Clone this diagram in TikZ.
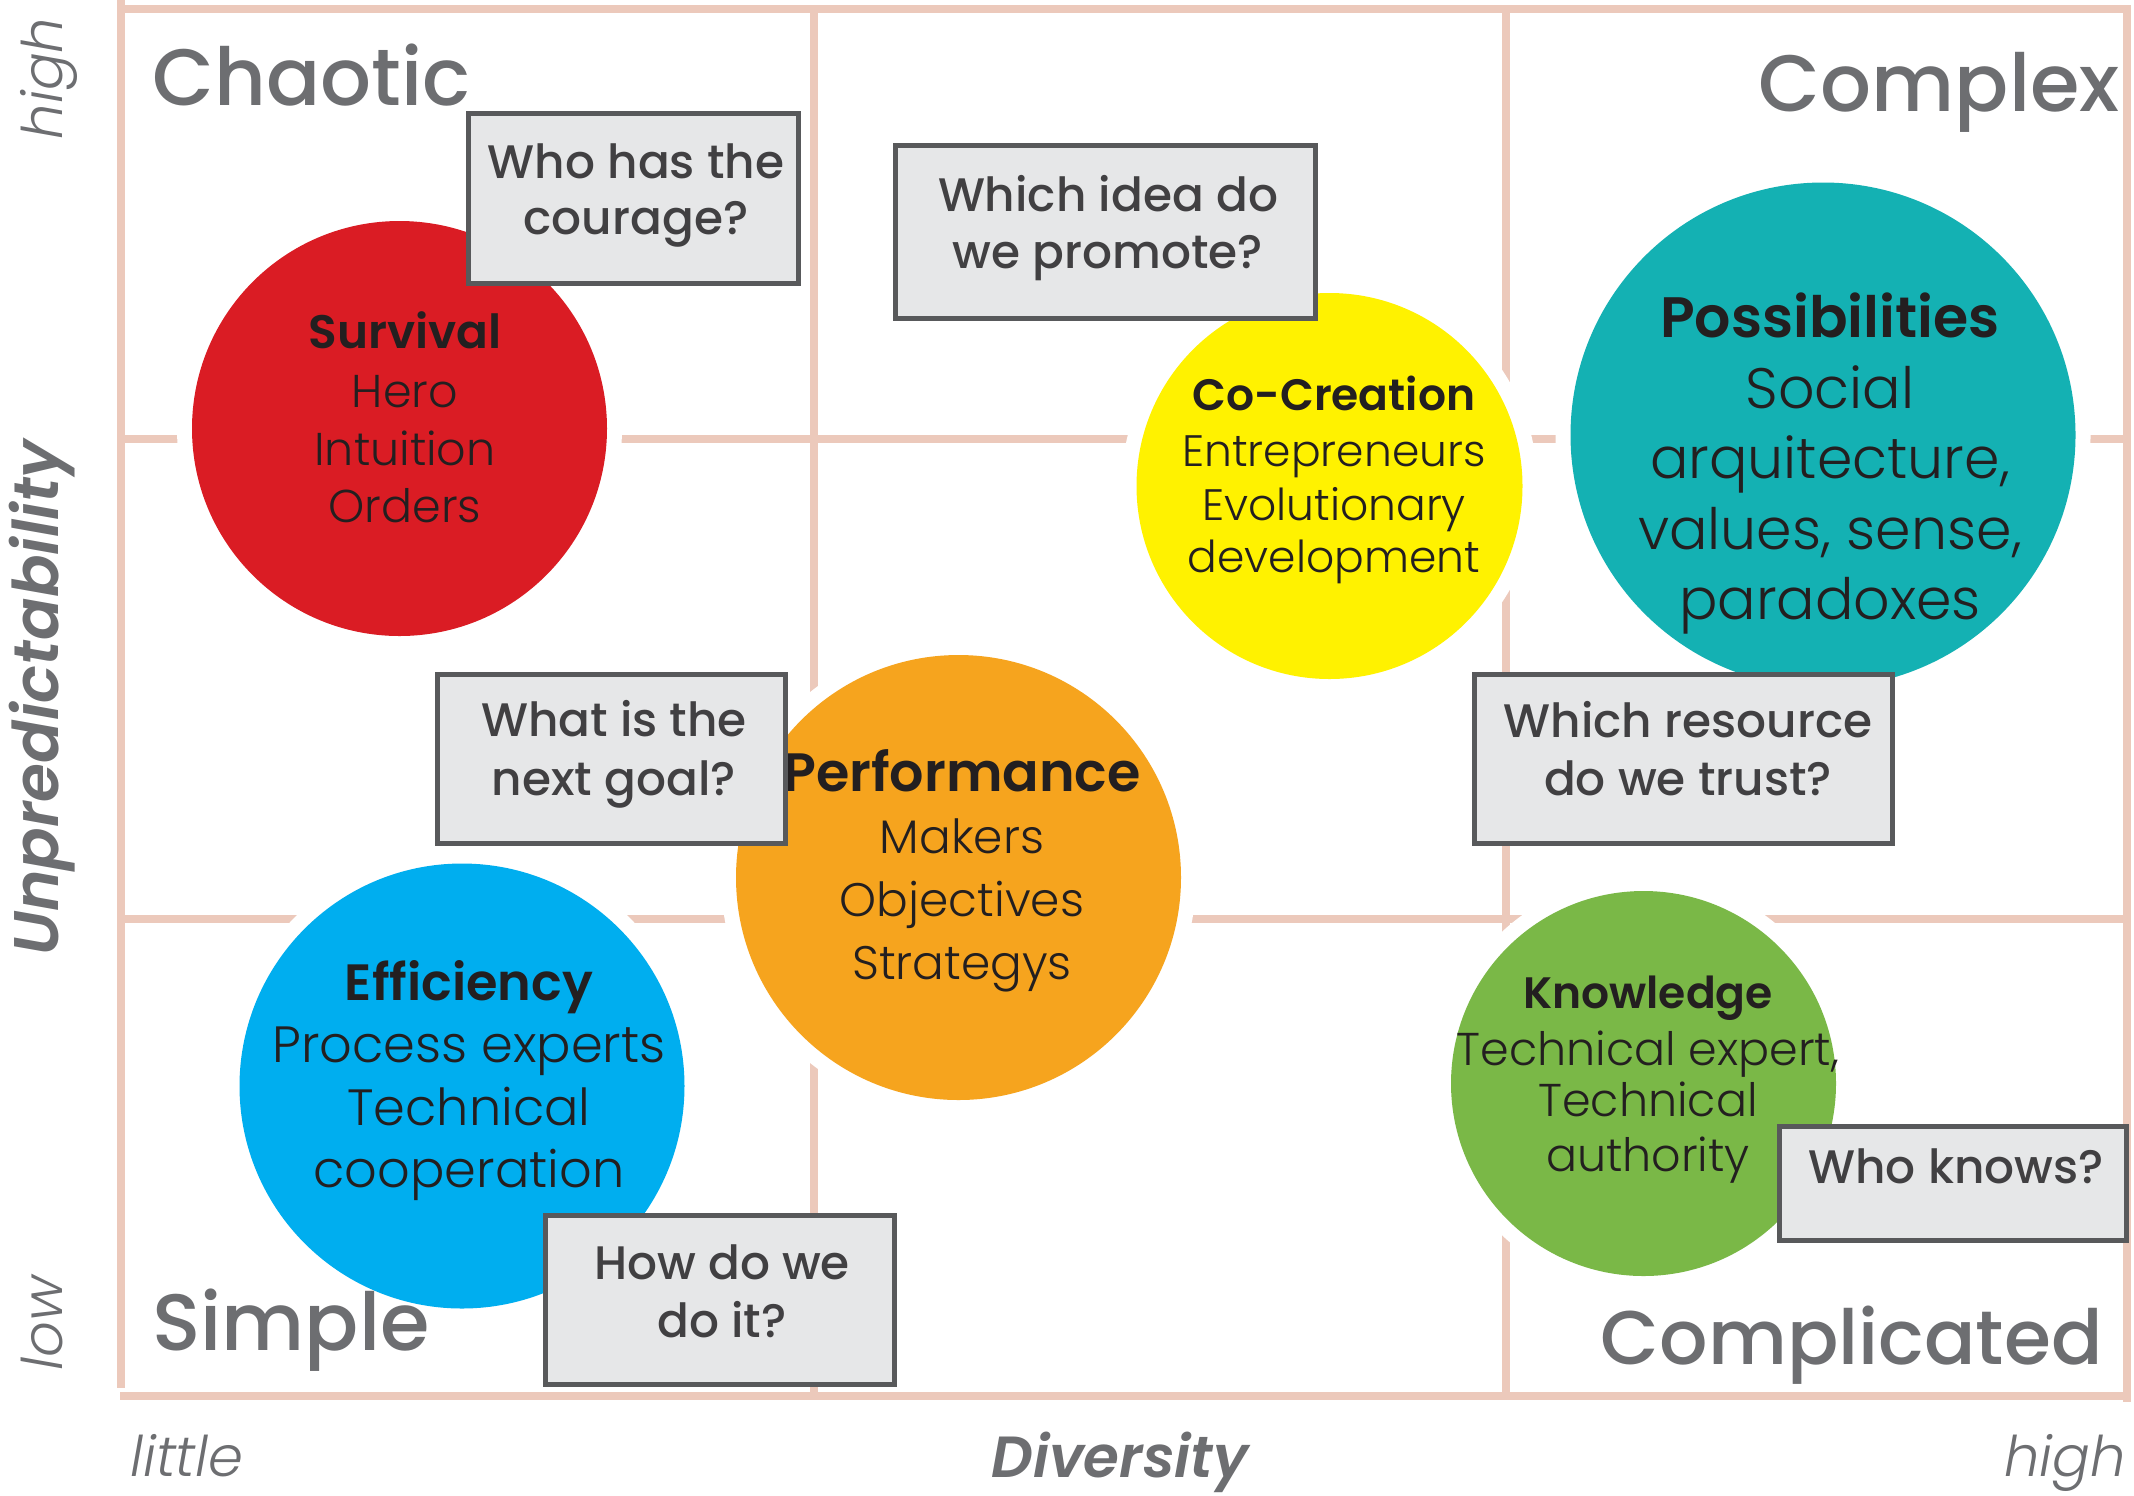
\documentclass[tikz,border=0pt]{standalone}
\usepackage{fontspec}
\IfFontExistsTF{Poppins Light}{\newfontfamily\popL{Poppins Light}}{\newfontfamily\popL{Poppins}}
\IfFontExistsTF{Poppins Medium}{\newfontfamily\popM{Poppins Medium}}{\newfontfamily\popM{Poppins}}
\IfFontExistsTF{Poppins SemiBold}{\newfontfamily\popB{Poppins SemiBold}}{\newfontfamily\popB{Poppins}[FakeBold=1.5]}
\IfFontExistsTF{Poppins Light Italic}{\newfontfamily\popLI{Poppins Light Italic}}{\newfontfamily\popLI{Poppins}[FakeSlant=0.2]}
\IfFontExistsTF{Poppins SemiBold Italic}{\newfontfamily\popBI{Poppins SemiBold Italic}}{\newfontfamily\popBI{Poppins}[FakeSlant=0.2,FakeBold=1.5]}
\definecolor{gridc}{RGB}{236,201,187}
\definecolor{redc}{RGB}{218,28,36}
\definecolor{yelc}{RGB}{255,242,0}
\definecolor{tealc}{RGB}{20,177,179}
\definecolor{orac}{RGB}{246,164,30}
\definecolor{bluec}{RGB}{0,174,239}
\definecolor{grnc}{RGB}{122,184,71}
\definecolor{boxfill}{RGB}{230,231,232}
\definecolor{boxline}{RGB}{88,89,91}
\definecolor{boxtext}{RGB}{65,64,66}
\definecolor{darktext}{RGB}{35,31,32}
\definecolor{labgray}{RGB}{109,110,113}
\begin{document}
\begin{tikzpicture}[x={(0.5pt,0)}, y={(0,-0.5pt)},
  gridline/.style={draw=gridc, line width=4pt},
  blob/.style={circle, inner sep=0pt, minimum size=#1, preaction={draw=white, line width=15pt}},
  qbox/.style={rectangle, draw=boxline, fill=boxfill, line width=2.5pt, inner sep=0pt},
  qtxt/.style={anchor=base, inner sep=0pt, text=boxtext, font=\popM\fontsize{23.5}{28}\selectfont},
  ttl/.style={anchor=base, inner sep=0pt, text=darktext, font=\popB\fontsize{#1}{#1}\selectfont},
  bdy/.style={anchor=base, inner sep=0pt, text=darktext, font=\popL\fontsize{#1}{#1}\selectfont},
  quad/.style={inner sep=0pt, text=labgray, font=\popM\fontsize{#1}{#1}\selectfont},
  axl/.style={inner sep=0pt, text=labgray, font=\popLI\fontsize{28}{28}\selectfont},
  axb/.style={inner sep=0pt, text=labgray, font=\popBI\fontsize{#1}{#1}\selectfont},
]
\useasboundingbox[fill=white] (0,0) rectangle (2134,1495);
% grid
\draw[gridline] (120.5,0) -- (120.5,1388);
\draw[gridline] (123,9) -- (2131,9);
\draw[gridline] (2127,9) -- (2127,1402);
\draw[gridline] (120,1396) -- (2131,1396);
\draw[gridline] (814,9) -- (814,1396);
\draw[gridline] (1505.5,9) -- (1505.5,1396);
\draw[gridline] (120,439) -- (2127,439);
\draw[gridline] (120,919) -- (2127,919);
% circles
\node[blob=207.5pt, fill=redc] (red) at (399.5,428.5) {};
\node[blob=193pt, fill=yelc] (yellow) at (1329.5,486) {};
\node[blob=252.5pt, fill=tealc] (teal) at (1823,435) {};
\node[blob=222.5pt, fill=orac] (orange) at (958.5,877.5) {};
\node[blob=222.5pt, fill=bluec] (blue) at (462,1086) {};
\node[blob=192.5pt, fill=grnc] (green) at (1643.5,1083.5) {};
% red text
\node[ttl=23.5] (r1) at (405,348) {Survival};
\node[bdy=23] (r2) at (405,407) {Hero};
\node[bdy=23] (r3) at (405,465.6) {Intuition};
\node[bdy=23] (r4) at (405,522) {Orders};
% yellow text
\node[ttl=22] (y1) at (1334,410.7) {Co-Creation};
\node[bdy=22] (y2) at (1334,466.5) {Entrepreneurs};
\node[bdy=22] (y3) at (1334,520) {Evolutionary};
\node[bdy=22] (y4) at (1334,572.8) {development};
% teal text
\node[ttl=28.5] (t1) at (1830,337) {Possibilities};
\node[bdy=28.5] (t2) at (1830,408.5) {Social};
\node[bdy=28.5] (t3) at (1830,478.6) {arquitecture,};
\node[bdy=28.5] (t4) at (1830,549) {values, sense,};
\node[bdy=28.5] (t5) at (1830,619) {paradoxes};
% orange text
\node[ttl=27] (o1) at (962,791.7) {Performance};
\node[bdy=23.5] (o2) at (962,853) {Makers};
\node[bdy=23.5] (o3) at (962,916) {Objectives};
\node[bdy=23.5] (o4) at (962,979) {Strategys};
% blue text
\node[ttl=25.5] (b1) at (469,1000) {Efficiency};
\node[bdy=25.5] (b2) at (469,1062) {Process experts};
\node[bdy=25.5] (b3) at (469,1125) {Technical};
\node[bdy=25.5] (b4) at (469,1187.7) {cooperation};
% green text
\node[ttl=22] (g1) at (1648,1008) {Knowledge};
\node[bdy=23] (g2) at (1648,1065) {Technical expert,};
\node[bdy=23] (g3) at (1648,1116) {Technical};
\node[bdy=23] (g4) at (1648,1171) {authority};
% question boxes
\node[qbox, minimum width=165pt, minimum height=85pt] (q1) at (633.5,198.5) {};
\node[qtxt] (q1a) at (636,178.6) {Who has the};
\node[qtxt] (q1b) at (636,234) {courage?};
\node[qbox, minimum width=210pt, minimum height=86.5pt] (q2) at (1105.5,232) {};
\node[qtxt] (q2a) at (1108,211.7) {Which idea do};
\node[qtxt] (q2b) at (1108,268) {we promote?};
\node[qbox, minimum width=174pt, minimum height=84.75pt] (q3) at (611.3,758.8) {};
\node[qtxt] (q3a) at (614,736) {What is the};
\node[qtxt] (q3b) at (614,795.5) {next goal?};
\node[qbox, minimum width=174.5pt, minimum height=84.5pt] (q4) at (719.6,1300) {};
\node[qtxt] (q4a) at (722,1279) {How do we};
\node[qtxt] (q4b) at (722,1337) {do it?};
\node[qbox, minimum width=209pt, minimum height=84.75pt] (q5) at (1683.5,758.8) {};
\node[qtxt] (q5a) at (1688,737) {Which resource};
\node[qtxt] (q5b) at (1688,795.5) {do we trust?};
\node[qbox, minimum width=173.5pt, minimum height=57pt] (q6) at (1953,1183.5) {};
\node[qtxt] (q6a) at (1956,1183) {Who knows?};
% quadrant labels
\node[quad=40, anchor=base west] (chaotic) at (152,105) {Chaotic};
\node[quad=40, anchor=base east] (complex) at (2120,111.6) {Complex};
\node[quad=40, anchor=base west] (simple) at (152,1350) {Simple};
\node[quad=38, anchor=base east] (complicated) at (2103,1364) {Complicated};
% axis labels
\node[axl, anchor=base west] (little) at (130,1476) {little};
\node[axb=29, anchor=base] (diversity) at (1120,1477) {Diversity};
\node[axl, anchor=base east] (highx) at (2126,1476) {high};
\node[axl, anchor=base, rotate=90] (highy) at (62,78.5) {high};
\node[axb=31.5, anchor=base, rotate=90] (unpred) at (58,698) {Unpredictability};
\node[axl, anchor=base, rotate=90] (lowy) at (62,1323) {low};
\end{tikzpicture}
\end{document}
